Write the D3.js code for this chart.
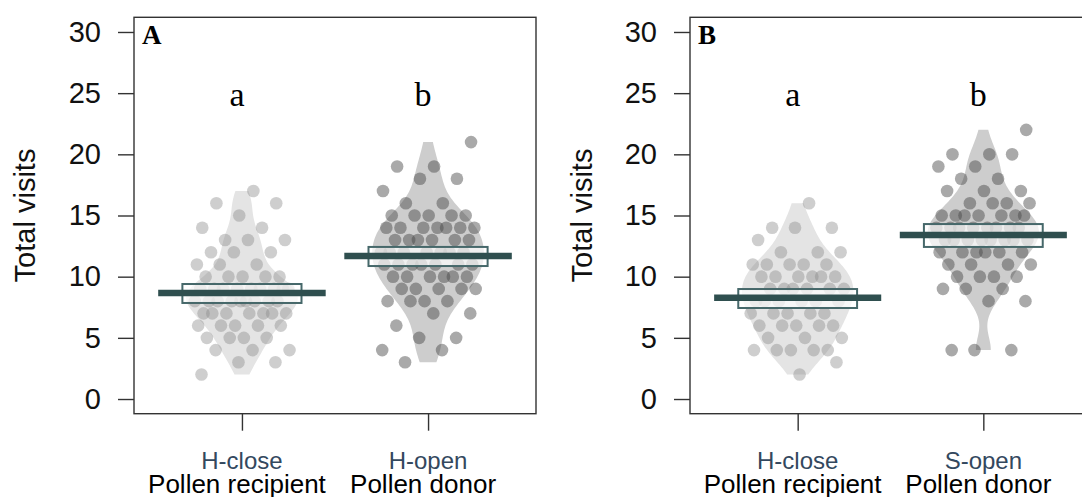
<!DOCTYPE html>
<html>
<head>
<meta charset="utf-8">
<script src="https://cdn.jsdelivr.net/npm/d3@7"></script>
<style>
  body { margin: 0; background: #fff; }
  svg { display: block; }
</style>
</head>
<body>
<div id="chart"></div>
<script>
// values
const panelTags = ["A", "B"];
const groupsA = ["H-close", "H-open"];
const groupsB = ["H-close", "S-open"];
const roles = ["Pollen recipient", "Pollen donor"];
const letters = ["a", "b"];
const yTicks = [0, 5, 10, 15, 20, 25, 30];

const visitsAClose = [17, 16, 16, 15, 14, 14, 13, 13, 13, 12, 12, 12, 11, 11, 11,
  10, 10, 10, 10, 10, 9, 9, 9, 9, 9, 9, 9, 9, 9, 8, 8, 8, 8, 8, 8, 8, 8, 8,
  7, 7, 7, 7, 7, 7, 7, 6, 6, 6, 6, 6, 5, 5, 5, 5, 4, 4, 4, 3, 3, 2];
const visitsAOpen = [21, 19, 19, 18, 18, 17, 16, 16, 15, 15, 15, 15, 15,
  14, 14, 14, 14, 14, 14, 14, 13, 13, 13, 13, 13, 13, 12, 12, 12, 12, 12, 12, 12,
  11, 11, 11, 11, 11, 11, 11, 10, 10, 10, 10, 10, 10, 9, 9, 9, 9, 9,
  8, 8, 8, 8, 7, 7, 6, 5, 5, 4, 4, 3];
const visitsBClose = [16, 14, 14, 14, 13, 12, 12, 12, 11, 11, 11, 11, 11,
  10, 10, 10, 10, 10, 10, 9, 9, 9, 9, 9, 9, 8, 8, 8, 8, 8, 8, 7, 7, 7, 7, 7,
  6, 6, 6, 6, 6, 5, 5, 5, 4, 4, 4, 4, 4, 3, 2];
const visitsBOpen = [22, 20, 20, 20, 19, 19, 18, 18, 17, 17, 17, 16, 16, 16, 16,
  15, 15, 15, 15, 15, 15, 15, 14, 14, 14, 14, 14, 14, 14, 14,
  13, 13, 13, 13, 13, 13, 13, 13, 12, 12, 12, 12, 12, 12,
  11, 11, 11, 11, 10, 10, 10, 10, 9, 9, 9, 8, 8, 4, 4, 4];

const meansA = [8.67, 11.69];
const ciA = [[7.85, 9.40], [10.87, 12.43]];
const meansB = [8.28, 13.40];
const ciB = [[7.44, 8.99], [12.43, 14.30]];

const panels = [
  { tag: panelTags[0], groups: groupsA, values: [visitsAClose, visitsAOpen], means: meansA, ci: ciA },
  { tag: panelTags[1], groups: groupsB, values: [visitsBClose, visitsBOpen], means: meansB, ci: ciB }
];

// layout
const W = 1082, H = 497;
const plotTop = 17.3, plotBottom = 413.7;
const frames = [
  { left: 134, right: 536, ylab: 35 },
  { left: 690, right: 1091, ylab: 592 }
];
const beanFill = ["#e4e4e4", "#cdcdcd"];
const pointFill = ["#8a8a8a", "#484848"];
const pointAlpha = [0.42, 0.47];
const slate = "#2f4f4f";

const svg = d3.select("#chart").append("svg")
  .attr("width", W).attr("height", H)
  .style("font-family", "'Liberation Sans', Arial, sans-serif");

const y = d3.scaleLinear().domain([-1.2, 31.2]).range([plotBottom, plotTop]);

// gaussian kernel density, R's bw.nrd0, cut at data range
function density(values) {
  const s = values.slice().sort(d3.ascending);
  const n = s.length;
  const iqr = d3.quantile(s, 0.75) - d3.quantile(s, 0.25);
  const bw = 0.9 * Math.min(d3.deviation(s), iqr / 1.34) * Math.pow(n, -0.2);
  const lo = s[0], hi = s[n - 1];
  const step = (hi - lo) / 120;
  return d3.range(lo, hi + step / 2, step).map(t => [
    t,
    d3.mean(s, v => Math.exp(-0.5 * ((t - v) / bw) ** 2)) / bw
  ]);
}

// deterministic spread in place of R's random jitter
const spread = i => (((i + 1) * 0.6180339887) % 1) * 2 - 1;

panels.forEach((p, pi) => {
  const f = frames[pi];
  const x = d3.scaleLinear().domain([0.42, 2.58]).range([f.left, f.right]);
  const g = svg.append("g");

  // beans
  p.values.forEach((vals, gi) => {
    const dens = density(vals);
    const dmax = d3.max(dens, d => d[1]);
    const c = gi + 1;
    const area = d3.area()
      .x0(d => x(c - 0.3 * d[1] / dmax))
      .x1(d => x(c + 0.3 * d[1] / dmax))
      .y(d => y(d[0]));
    g.append("path")
      .datum(dens)
      .attr("fill", beanFill[gi])
      .attr("d", area);
  });

  // points
  p.values.forEach((vals, gi) => {
    const c = gi + 1;
    g.append("g")
      .selectAll("circle")
      .data(vals)
      .join("circle")
      .attr("cx", (d, i) => x(c + 0.26 * spread(i + gi * 7)))
      .attr("cy", d => y(d))
      .attr("r", 6.3)
      .attr("fill", pointFill[gi])
      .attr("fill-opacity", pointAlpha[gi]);
  });

  // inference bands and means
  p.means.forEach((m, gi) => {
    const c = gi + 1;
    g.append("rect")
      .attr("x", x(c - 0.32))
      .attr("width", x(c + 0.32) - x(c - 0.32))
      .attr("y", y(p.ci[gi][1]))
      .attr("height", y(p.ci[gi][0]) - y(p.ci[gi][1]))
      .attr("fill", "#ffffff")
      .attr("fill-opacity", 0.7)
      .attr("stroke", "#46686a")
      .attr("stroke-width", 2);
    g.append("line")
      .attr("x1", x(c - 0.45))
      .attr("x2", x(c + 0.45))
      .attr("y1", y(m))
      .attr("y2", y(m))
      .attr("stroke", slate)
      .attr("stroke-width", 6.5);
  });

  // frame
  g.append("rect")
    .attr("x", f.left).attr("y", plotTop)
    .attr("width", f.right - f.left).attr("height", plotBottom - plotTop)
    .attr("fill", "none").attr("stroke", "#333").attr("stroke-width", 1.4);

  // y axis
  const ya = g.append("g")
    .attr("transform", `translate(${f.left},0)`)
    .call(d3.axisLeft(y).tickValues(yTicks).tickSize(16).tickPadding(17));
  ya.select(".domain").remove();
  ya.selectAll("line").attr("stroke", "#333").attr("stroke-width", 1.4);
  ya.selectAll("text")
    .attr("font-size", 29)
    .attr("font-family", "'Liberation Sans', Arial, sans-serif")
    .attr("fill", "#111");

  // x axis
  const xa = g.append("g")
    .attr("transform", `translate(0,${plotBottom})`)
    .call(d3.axisBottom(x).tickValues([1, 2]).tickSize(17).tickFormat(""));
  xa.select(".domain").remove();
  xa.selectAll("line").attr("stroke", "#333").attr("stroke-width", 1.4);

  // category labels
  p.groups.forEach((name, gi) => {
    const cx = x(gi + 1);
    g.append("text")
      .attr("x", cx).attr("y", 469)
      .attr("text-anchor", "middle")
      .attr("font-size", 24)
      .attr("fill", "#33485e")
      .text(name);
    g.append("text")
      .attr("x", cx - 5).attr("y", 493)
      .attr("text-anchor", "middle")
      .attr("font-size", 26)
      .attr("fill", "#000")
      .text(roles[gi]);
    g.append("text")
      .attr("x", cx - 5).attr("y", y(25) + 13)
      .attr("text-anchor", "middle")
      .attr("font-family", "'Liberation Serif', 'Times New Roman', serif")
      .attr("font-size", 34)
      .attr("fill", "#000")
      .text(letters[gi]);
  });

  // panel tag
  g.append("text")
    .attr("x", f.left + 8).attr("y", 44)
    .attr("font-family", "'Liberation Serif', 'Times New Roman', serif")
    .attr("font-weight", "bold")
    .attr("font-size", 27)
    .text(p.tag);

  // y title
  g.append("text")
    .attr("transform", `translate(${f.ylab},${(plotTop + plotBottom) / 2}) rotate(-90)`)
    .attr("text-anchor", "middle")
    .attr("font-size", 29)
    .attr("fill", "#111")
    .text("Total visits");
});
</script>
</body>
</html>
